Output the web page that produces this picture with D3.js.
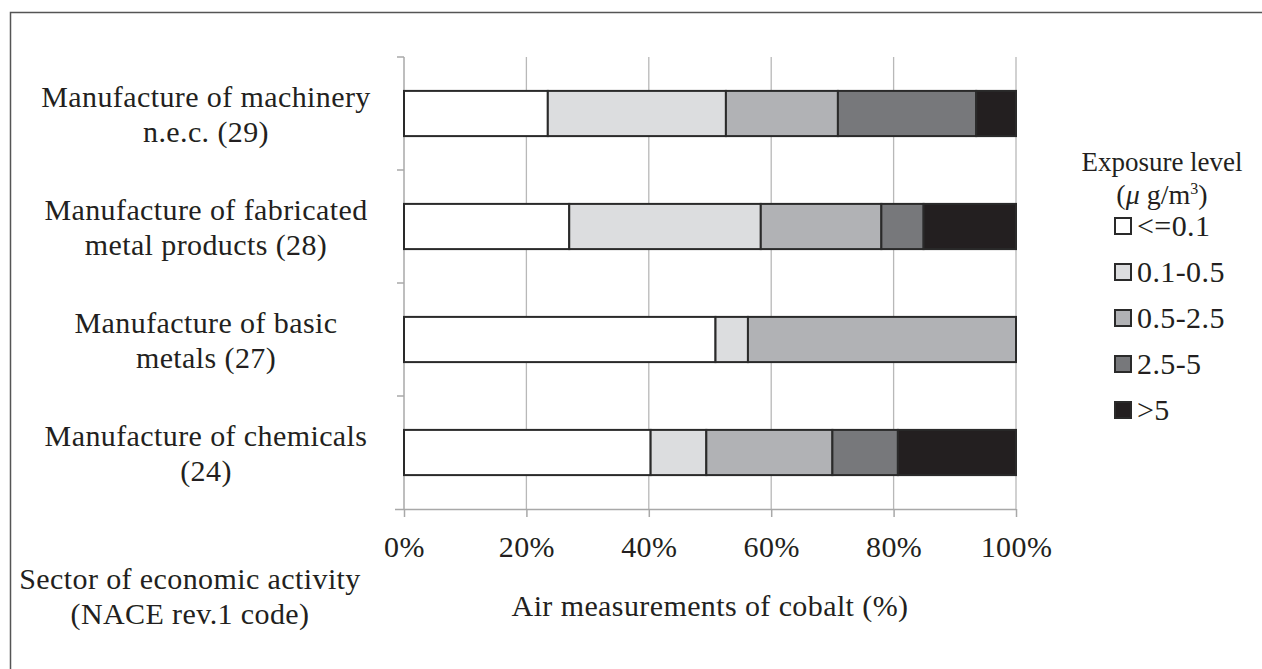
<!DOCTYPE html>
<meta charset="utf-8">
<script src="https://d3js.org/d3.v7.min.js"></script>
<style>
  body { margin: 0; background: #fff; }
  text { font-family: "Liberation Serif", "Times New Roman", serif; fill: #231f20; letter-spacing: 0.4px; }
</style>
<div id="my_dataviz"></div>
<script>
  // sectors, top to bottom
  const sectors = [
    ["Manufacture of machinery", "n.e.c. (29)"],
    ["Manufacture of fabricated", "metal products (28)"],
    ["Manufacture of basic", "metals (27)"],
    ["Manufacture of chemicals", "(24)"]
  ];
  const levels = ["<=0.1", "0.1-0.5", "0.5-2.5", "2.5-5", ">5"];
  const levelColors = ["#ffffff", "#dcdddf", "#b1b2b5", "#77787b", "#231f20"];

  // share of air measurements (%) per level, one array per sector
  const machinery = [23.5, 29.1, 18.3, 22.6, 6.5];
  const fabricated = [27.0, 31.3, 19.7, 6.9, 15.1];
  const basicMetals = [50.9, 5.3, 43.8, 0, 0];
  const chemicals = [40.3, 9.1, 20.6, 10.7, 19.3];
  const values = [machinery, fabricated, basicMetals, chemicals];

  const xTicks = [0, 20, 40, 60, 80, 100];

  var W = 1262, H = 669;
  var margin = {top: 57, left: 404, right: 246, bottom: 160};
  var width = W - margin.left - margin.right,
      height = H - margin.top - margin.bottom;
  var fs = "30px";

  var svg = d3.select("#my_dataviz")
    .append("svg")
      .attr("width", W)
      .attr("height", H);

  // outer frame (left and top only visible)
  svg.append("path")
    .attr("d", "M10.5," + H + "V12.5H" + W)
    .attr("fill", "none")
    .attr("stroke", "#555")
    .attr("stroke-width", 1.5);

  var g = svg.append("g")
    .attr("transform", "translate(" + margin.left + "," + margin.top + ")");

  var x = d3.scaleLinear().domain([0, 100]).range([0, width]);
  var y = d3.scaleBand()
    .domain(d3.range(sectors.length))
    .range([0, height])
    .paddingInner(0.6)
    .paddingOuter(0.3);

  // gridlines
  g.append("g")
    .selectAll("line")
    .data(xTicks.slice(1))
    .enter().append("line")
      .attr("x1", d => x(d)).attr("x2", d => x(d))
      .attr("y1", 0).attr("y2", height)
      .attr("stroke", "#b8b8b8")
      .attr("stroke-width", 1.3);

  // x axis
  var xAxis = g.append("g")
    .attr("transform", "translate(0," + height + ")")
    .call(d3.axisBottom(x).tickValues(xTicks).tickSize(8).tickFormat(d => d + "%"));
  xAxis.select(".domain").attr("d", "M-9,0.5H" + width).attr("stroke", "#a8a8a8").attr("stroke-width", 1.5);
  xAxis.selectAll(".tick line").attr("stroke", "#a8a8a8").attr("stroke-width", 1.5);
  xAxis.selectAll(".tick text")
    .attr("y", 27)
    .attr("dy", "0.71em")
    .attr("font-family", null)
    .style("font-size", fs)
    .attr("fill", "#231f20");

  // y axis: vertical line with ticks at category boundaries
  var bandStep = height / sectors.length;
  g.append("line")
    .attr("x1", 0).attr("x2", 0).attr("y1", 0).attr("y2", height)
    .attr("stroke", "#a8a8a8").attr("stroke-width", 1.5);
  g.append("g")
    .selectAll("line")
    .data(d3.range(sectors.length))
    .enter().append("line")
      .attr("x1", -7).attr("x2", 0)
      .attr("y1", d => d * bandStep).attr("y2", d => d * bandStep)
      .attr("stroke", "#a8a8a8").attr("stroke-width", 1.5);

  // stacked bars
  var stacks = values.map(function(row, i) {
    var acc = 0;
    return row.map(function(v, j) {
      var seg = {row: i, level: j, x0: acc, x1: acc + v};
      acc += v;
      return seg;
    });
  });
  g.append("g")
    .selectAll("g")
    .data(stacks)
    .enter().append("g")
    .selectAll("rect")
    .data(d => d.filter(s => s.x1 > s.x0))
    .enter().append("rect")
      .attr("x", d => x(d.x0))
      .attr("y", d => y(d.row))
      .attr("width", d => x(d.x1) - x(d.x0))
      .attr("height", y.bandwidth())
      .attr("fill", d => levelColors[d.level])
      .attr("stroke", "#2a2a2a")
      .attr("stroke-width", 2);

  // category labels
  sectors.forEach(function(lines, i) {
    var cy = margin.top + y(i) + y.bandwidth() / 2;
    var t = svg.append("text")
      .attr("text-anchor", "middle")
      .style("font-size", fs);
    t.append("tspan").attr("x", 206).attr("y", cy - 7).text(lines[0]);
    t.append("tspan").attr("x", 206).attr("y", cy + 28).text(lines[1]);
  });

  // axis titles
  svg.append("text")
    .attr("x", 710).attr("y", 616)
    .attr("text-anchor", "middle")
    .style("font-size", fs)
    .text("Air measurements of cobalt (%)");
  var st = svg.append("text").attr("text-anchor", "middle").style("font-size", fs);
  st.append("tspan").attr("x", 190).attr("y", 589).text("Sector of economic activity");
  st.append("tspan").attr("x", 190).attr("y", 624).text("(NACE rev.1 code)");

  // legend
  var lg = svg.append("g");
  lg.append("text")
    .attr("x", 1162).attr("y", 171)
    .attr("text-anchor", "middle")
    .style("font-size", "27px")
    .style("letter-spacing", "0px")
    .text("Exposure level");
  var unit = lg.append("text")
    .attr("x", 1162).attr("y", 204)
    .attr("text-anchor", "middle")
    .style("font-size", "28px")
    .style("letter-spacing", "0px");
  unit.append("tspan").text("(");
  unit.append("tspan").style("font-style", "italic").text("\u03bc ");
  unit.append("tspan").text("g/m");
  unit.append("tspan").attr("dy", -10).style("font-size", "16px").text("3");
  unit.append("tspan").attr("dy", 10).text(")");

  var item = lg.selectAll("g.item")
    .data(levels)
    .enter().append("g")
      .attr("class", "item")
      .attr("transform", (d, i) => "translate(1115," + (218 + i * 46) + ")");
  item.append("rect")
    .attr("width", 16).attr("height", 16)
    .attr("fill", (d, i) => levelColors[i])
    .attr("stroke", "#2a2a2a")
    .attr("stroke-width", 2);
  item.append("text")
    .attr("x", 22).attr("y", 18)
    .style("font-size", fs)
    .text(d => d);
</script>
